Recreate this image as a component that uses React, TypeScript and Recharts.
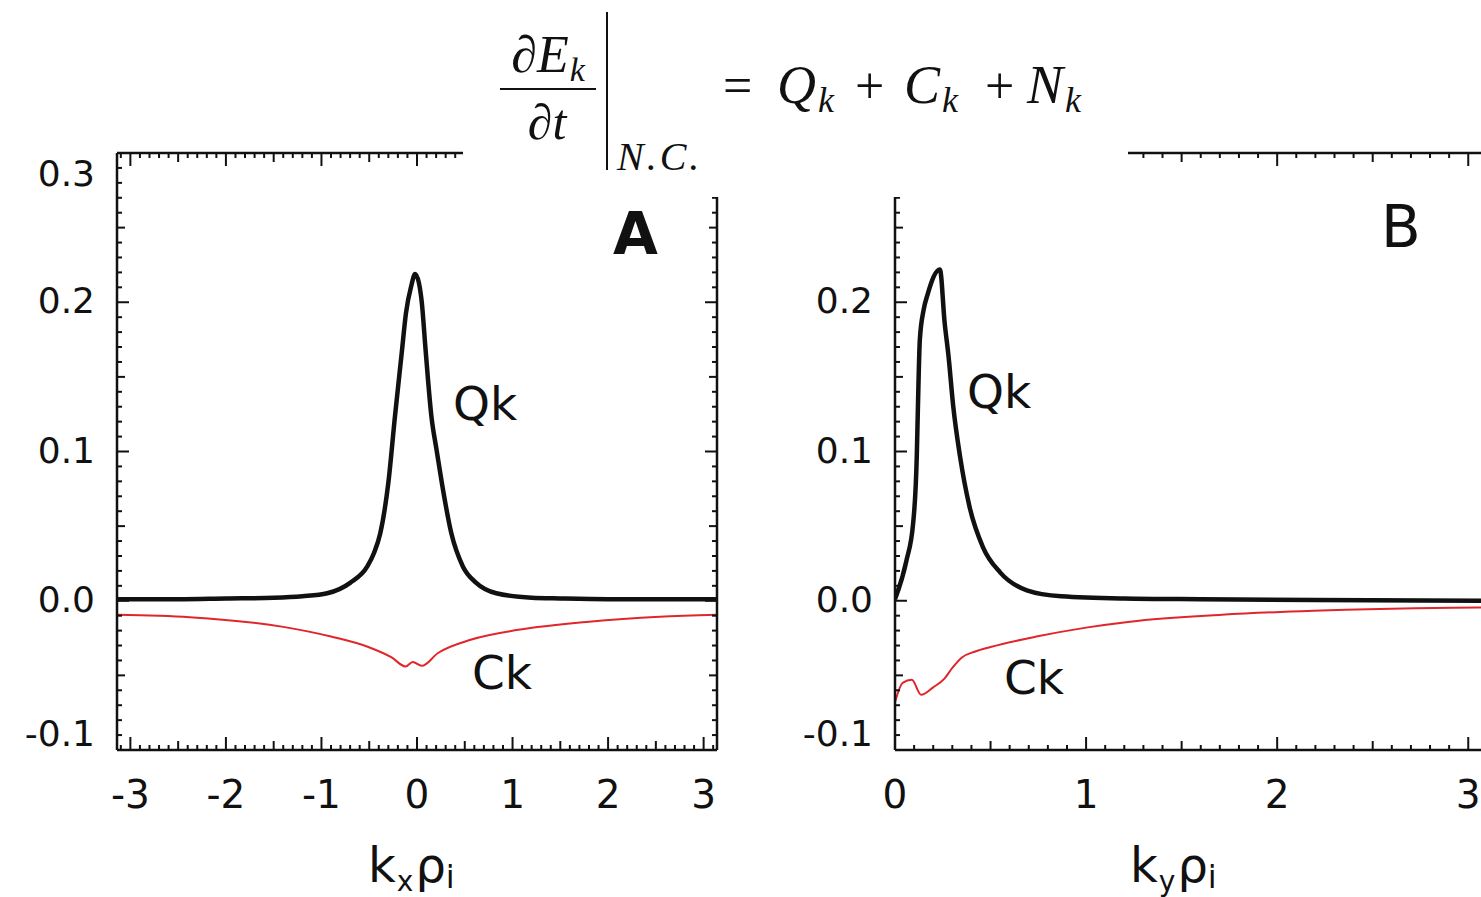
import React from 'react';
import { LineChart, Line, XAxis, YAxis } from 'recharts';

// ---------- data ----------
// Panel A : k_x rho_i
const KX_A_QK = [-3.14, -2.5, -2, -1.5, -1.2, -0.94, -0.7, -0.52, -0.45, -0.385, -0.3, -0.23, -0.16, -0.115, -0.06, -0.02, 0.02, 0.05, 0.09, 0.15, 0.205, 0.26, 0.36, 0.48, 0.62, 0.83, 1.2, 1.5, 2, 2.5, 3.14];
const QK_A = [0.001, 0.001, 0.0015, 0.002, 0.003, 0.005, 0.012, 0.023, 0.032, 0.045, 0.079, 0.124, 0.166, 0.193, 0.211, 0.219, 0.213, 0.2, 0.168, 0.124, 0.101, 0.079, 0.045, 0.023, 0.012, 0.005, 0.002, 0.0015, 0.001, 0.001, 0.001];
const KX_A_CK = [-3.14, -2.38, -1.4, -0.9, -0.51, -0.265, -0.12, -0.045, 0.05, 0.22, 0.57, 1.06, 1.8, 2.54, 3.14];
const CK_A = [-0.0094, -0.011, -0.0175, -0.024, -0.031, -0.038, -0.044, -0.041, -0.0436, -0.035, -0.026, -0.0195, -0.014, -0.0107, -0.0094];

// Panel B : k_y rho_i
const KY_B_QK = [0, 0.06, 0.095, 0.114, 0.12, 0.13, 0.15, 0.17, 0.235, 0.26, 0.28, 0.305, 0.34, 0.39, 0.46, 0.55, 0.69, 0.87, 1.2, 1.6, 2.2, 3.14];
const QK_B = [0.001, 0.027, 0.052, 0.097, 0.13, 0.175, 0.195, 0.205, 0.222, 0.186, 0.164, 0.13, 0.097, 0.063, 0.036, 0.019, 0.007, 0.003, 0.0015, 0.001, 0.0005, 0.0];
const KY_B_CK = [0, 0.04, 0.088, 0.137, 0.2, 0.26, 0.3, 0.35, 0.42, 0.5, 0.74, 1.0, 1.23, 1.71, 2.19, 2.92, 3.14];
const CK_B = [-0.068, -0.055, -0.053, -0.063, -0.058, -0.052, -0.045, -0.038, -0.034, -0.031, -0.024, -0.018, -0.014, -0.0094, -0.0067, -0.0047, -0.0045];

// tick labels
const X_MAJOR_A = [-3, -2, -1, 0, 1, 2, 3];
const X_LABELS_A = ['-3', '-2', '-1', '0', '1', '2', '3'];
const X_MAJOR_B = [0, 1, 2, 3];
const X_LABELS_B = ['0', '1', '2', '3'];
const Y_MAJOR = [-0.1, 0, 0.1, 0.2, 0.3];
const Y_LABELS = ['-0.1', '0.0', '0.1', '0.2', '0.3'];

// minor tick positions
const X_TICKS_A = Array.from({ length: 63 }, (_, i) => (i - 31) / 10);
const X_TICKS_B = Array.from({ length: 32 }, (_, i) => i / 10);
const Y_TICKS = Array.from({ length: 41 }, (_, i) => (i - 10) / 100);

const pairs = (xs: number[], ys: number[]) => xs.map((x, i) => ({ x, y: ys[i] }));
const qkA = pairs(KX_A_QK, QK_A);
const ckA = pairs(KX_A_CK, CK_A);
const qkB = pairs(KY_B_QK, QK_B);
const ckB = pairs(KY_B_CK, CK_B);

const SANS = 'DejaVu Sans, Verdana, sans-serif';
const SERIF = 'Liberation Serif, Times New Roman, serif';
const INK = '#111';

const near = (a: number, b: number) => Math.abs(a - b) < 1e-6;
const isMult = (v: number, m: number) => near(v / m, Math.round(v / m));

function makeXTick(side: 'bottom' | 'top', majors?: number[], labels?: string[]) {
  return (props: any) => {
    const { x, y, payload } = props;
    const v = payload.value as number;
    const len = isMult(v, 1) ? 13 : isMult(v, 0.5) ? 9 : 5;
    const dir = side === 'bottom' ? -1 : 1;
    const idx = majors ? majors.findIndex((m) => near(m, v)) : -1;
    return (
      <g>
        <line x1={x} x2={x} y1={y} y2={y + dir * len} stroke={INK} strokeWidth={2} />
        {idx >= 0 && labels && (
          <text x={x} y={y + 58} textAnchor="middle" fontSize={39} fontFamily={SANS} fill={INK}>
            {labels[idx]}
          </text>
        )}
      </g>
    );
  };
}

function makeYTick(side: 'left' | 'right', withLabels: boolean) {
  return (props: any) => {
    const { x, y, payload } = props;
    const v = payload.value as number;
    const len = isMult(v, 0.1) ? 12 : isMult(v, 0.05) ? 8 : 5;
    const dir = side === 'left' ? 1 : -1;
    const idx = Y_MAJOR.findIndex((m) => near(m, v));
    let shift = 11;
    if (near(v, 0.3)) shift = 33;
    if (near(v, -0.1)) shift = -4;
    return (
      <g>
        <line x1={x} x2={x + dir * len} y1={y} y2={y} stroke={INK} strokeWidth={2} />
        {withLabels && idx >= 0 && (
          <text x={x - 22} y={y + shift} textAnchor="end" fontSize={36} fontFamily={SANS} fill={INK}>
            {Y_LABELS[idx]}
          </text>
        )}
      </g>
    );
  };
}

const axisLine = { stroke: INK, strokeWidth: 2.5 };

function Panel(props: {
  width: number;
  yAxisWidth: number;
  right: number;
  domain: [number, number];
  xTicks: number[];
  majors: number[];
  labels: string[];
  qk: { x: number; y: number }[];
  ck: { x: number; y: number }[];
}) {
  const { width, yAxisWidth, right, domain, xTicks, majors, labels, qk, ck } = props;
  return (
    <LineChart width={width} height={897} margin={{ top: 152, right, bottom: 0, left: 0 }}>
      <XAxis
        xAxisId="b"
        dataKey="x"
        type="number"
        domain={domain}
        allowDataOverflow
        ticks={xTicks}
        interval={0}
        height={147}
        tickSize={0}
        tickMargin={0}
        tickLine={false}
        axisLine={axisLine}
        tick={makeXTick('bottom', majors, labels)}
      />
      <XAxis
        xAxisId="t"
        orientation="top"
        dataKey="x"
        type="number"
        domain={domain}
        allowDataOverflow
        ticks={xTicks}
        interval={0}
        height={1}
        tickSize={0}
        tickMargin={0}
        tickLine={false}
        axisLine={axisLine}
        tick={makeXTick('top')}
      />
      <YAxis
        yAxisId="l"
        type="number"
        domain={[-0.1, 0.3]}
        allowDataOverflow
        ticks={Y_TICKS}
        interval={0}
        width={yAxisWidth}
        tickSize={0}
        tickMargin={0}
        tickLine={false}
        axisLine={axisLine}
        tick={makeYTick('left', true)}
      />
      <YAxis
        yAxisId="r"
        orientation="right"
        type="number"
        domain={[-0.1, 0.3]}
        allowDataOverflow
        ticks={Y_TICKS}
        interval={0}
        width={1}
        tickSize={0}
        tickMargin={0}
        tickLine={false}
        axisLine={axisLine}
        tick={makeYTick('right', false)}
      />
      <Line
        xAxisId="b"
        yAxisId="l"
        data={qk}
        dataKey="y"
        type="monotone"
        stroke={INK}
        strokeWidth={4.5}
        dot={false}
        isAnimationActive={false}
      />
      <Line
        xAxisId="b"
        yAxisId="l"
        data={ck}
        dataKey="y"
        type="monotone"
        stroke="#e0262b"
        strokeWidth={2}
        dot={false}
        isAnimationActive={false}
      />
    </LineChart>
  );
}

function Sub(props: { x: number; base: string; sub: string }) {
  return (
    <text x={props.x} y={103} fontSize={54} fontStyle="italic">
      {props.base}
      <tspan fontSize={36} dx={2} dy={9}>
        {props.sub}
      </tspan>
    </text>
  );
}

export default function App() {
  return (
    <div
      style={{
        position: 'absolute',
        left: 0,
        top: 0,
        width: 1481,
        height: 897,
        overflow: 'hidden',
        background: '#fff',
      }}
    >
      <div style={{ position: 'absolute', left: 0, top: 0 }}>
        <Panel
          width={740}
          yAxisWidth={117}
          right={22}
          domain={[-3.14, 3.14]}
          xTicks={X_TICKS_A}
          majors={X_MAJOR_A}
          labels={X_LABELS_A}
          qk={qkA}
          ck={ckA}
        />
      </div>
      <div style={{ position: 'absolute', left: 760, top: 0 }}>
        <Panel
          width={760}
          yAxisWidth={135}
          right={24}
          domain={[0, 3.14]}
          xTicks={X_TICKS_B}
          majors={X_MAJOR_B}
          labels={X_LABELS_B}
          qk={qkB}
          ck={ckB}
        />
      </div>
      <svg
        width={1481}
        height={897}
        style={{ position: 'absolute', left: 0, top: 0, pointerEvents: 'none' }}
      >
        {/* title box */}
        <rect x={463} y={0} width={665} height={197} fill="#fff" />
        <g fontFamily={SERIF} fill={INK}>
          <text x={548} y={72} fontSize={52} fontStyle="italic" textAnchor="middle">
            ∂E
            <tspan fontSize={34} dx={1} dy={9}>
              k
            </tspan>
          </text>
          <line x1={500} x2={596} y1={89} y2={89} stroke={INK} strokeWidth={2} />
          <text x={547} y={139} fontSize={50} fontStyle="italic" textAnchor="middle">
            ∂t
          </text>
          <line x1={607} x2={607} y1={12} y2={170} stroke={INK} strokeWidth={2} />
          <text x={617} y={170} fontSize={40} fontStyle="italic" letterSpacing={3}>
            N.C.
          </text>
          <text x={723} y={103} fontSize={52}>
            =
          </text>
          <Sub x={777} base="Q" sub="k" />
          <text x={855} y={103} fontSize={52}>
            +
          </text>
          <Sub x={904} base="C" sub="k" />
          <text x={985} y={103} fontSize={52}>
            +
          </text>
          <Sub x={1027} base="N" sub="k" />
        </g>
        <g fontFamily={SANS} fill={INK}>
          <text x={613} y={254} fontSize={58} fontWeight="bold">
            A
          </text>
          <text x={1381} y={247} fontSize={58}>
            B
          </text>
          <text x={453} y={420} fontSize={47}>
            Qk
          </text>
          <text x={472} y={689} fontSize={47}>
            Ck
          </text>
          <text x={967} y={408} fontSize={47}>
            Qk
          </text>
          <text x={1004} y={694} fontSize={47}>
            Ck
          </text>
          <text x={368} y={882} fontSize={48}>
            k
            <tspan fontSize={28} dx={1} dy={9}>
              x
            </tspan>
            <tspan fontSize={48} dx={2} dy={-9}>
              ρ
            </tspan>
            <tspan fontSize={32} dy={6}>
              i
            </tspan>
          </text>
          <text x={1130} y={882} fontSize={48}>
            k
            <tspan fontSize={28} dx={1} dy={9}>
              y
            </tspan>
            <tspan fontSize={48} dx={2} dy={-9}>
              ρ
            </tspan>
            <tspan fontSize={32} dy={6}>
              i
            </tspan>
          </text>
        </g>
      </svg>
    </div>
  );
}
